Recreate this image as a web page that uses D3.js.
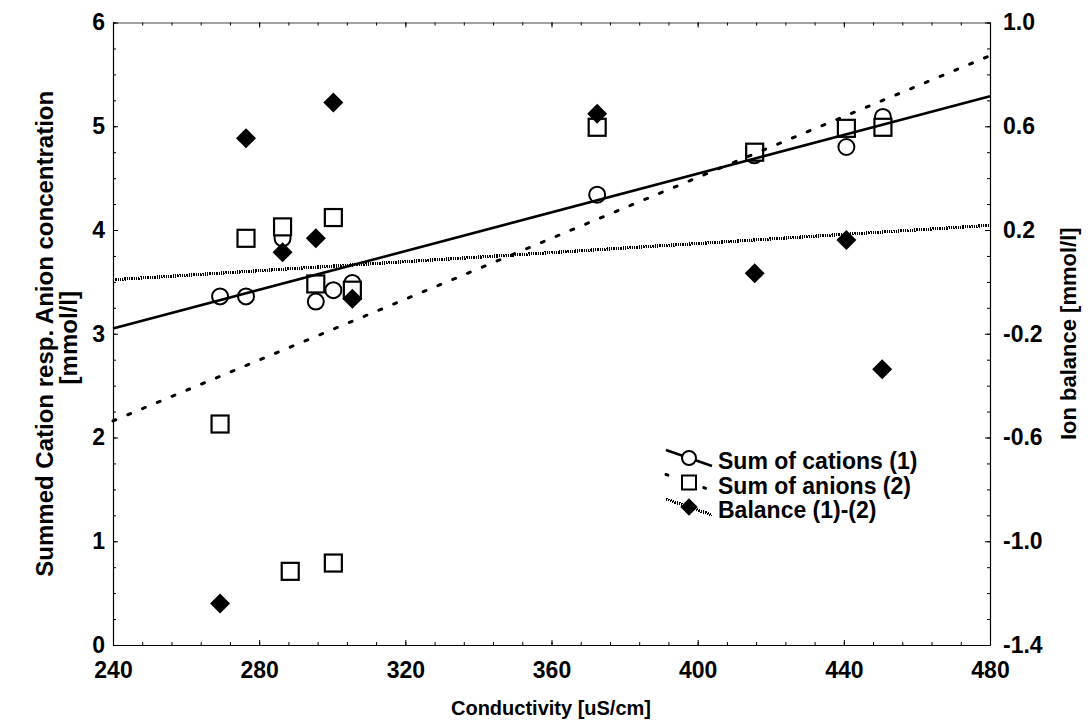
<!DOCTYPE html>
<html><head><meta charset="utf-8">
<script src="https://cdn.jsdelivr.net/npm/d3@7"></script>
<style>body{margin:0;background:#fff}svg{display:block}</style>
</head><body><svg id="c" width="1091" height="722"></svg>
<script>
// ---- data ----
const cationX = [269.3, 276.4, 286.4, 295.5, 300.3, 305.5, 372.5, 415.5, 440.7, 450.7];
const cationY = [3.36, 3.36, 3.92, 3.31, 3.42, 3.49, 4.34, 4.72, 4.80, 5.09];
const anionX = [269.3, 276.4, 286.4, 300.3, 295.5, 305.5, 288.5, 300.3, 372.5, 415.6, 440.7, 450.7];
const anionY = [2.13, 3.92, 4.03, 4.12, 3.48, 3.42, 0.71, 0.79, 4.99, 4.75, 4.98, 4.99];
const balanceX = [269.3, 276.4, 300.3, 286.4, 295.5, 305.5, 372.5, 415.6, 440.7, 450.5];
const balanceY = [-1.24, 0.554, 0.692, 0.114, 0.168, -0.065, 0.648, 0.033, 0.161, -0.337];
const fitX = [240, 480];
const cationFit = [3.05, 5.29];
const anionFit = [2.16, 5.68];
const balanceFit = [0.008, 0.218];
const xTicks = [240, 280, 320, 360, 400, 440, 480];
const yLeftTicks = [0, 1, 2, 3, 4, 5, 6];
const yRightTicks = [-1.4, -1.0, -0.6, -0.2, 0.2, 0.6, 1.0];
const legendLabels = ["Sum of cations (1)", "Sum of anions (2)", "Balance (1)-(2)"];
const xTitle = "Conductivity [uS/cm]";
const yLeftTitle = ["Summed Cation resp. Anion concentration", "[mmol/l]"];
const yRightTitle = "Ion balance [mmol/l]";

// ---- layout ----
const L = 113, R = 990, T = 22.5, B = 645;
const svg = d3.select("#c");
const FONT = "'Liberation Sans', Arial, sans-serif";
const x = d3.scaleLinear().domain([240, 480]).range([L, R]);
const yL = d3.scaleLinear().domain([0, 6]).range([B, T]);
const yR = d3.scaleLinear().domain([-1.4, 1.0]).range([B, T]);

const xMinor = d3.range(240, 480.01, 8);
const yLMinor = d3.range(0, 6.001, 0.25);
const yRMinor = d3.range(-1.4, 1.0001, 0.1);
const fmt1 = v => d3.format(".1f")(v).replace("\u2212", "-");

function styleAxis(g) {
  g.select(".domain").attr("stroke", "#000").attr("stroke-width", 1.2);
  g.selectAll(".tick line").attr("stroke", "#000").attr("stroke-width", 1);
  g.selectAll("text").attr("font-family", FONT).attr("font-weight", "bold")
    .attr("font-size", 23).attr("fill", "#000");
}

// minor ticks + axis lines
svg.append("g").attr("transform", `translate(0,${B})`)
  .call(d3.axisBottom(x).tickValues(xMinor).tickSize(-3).tickFormat("").tickSizeOuter(0)).call(styleAxis);
svg.append("g").attr("transform", `translate(0,${T})`)
  .call(d3.axisTop(x).tickValues(xMinor).tickSize(-3).tickFormat("").tickSizeOuter(0)).call(styleAxis)
  .select(".domain").attr("stroke", "#444").attr("stroke-width", 1);
svg.append("g").attr("transform", `translate(${L},0)`)
  .call(d3.axisLeft(yL).tickValues(yLMinor).tickSize(-3).tickFormat("").tickSizeOuter(0)).call(styleAxis);
svg.append("g").attr("transform", `translate(${R},0)`)
  .call(d3.axisRight(yR).tickValues(yRMinor).tickSize(-3).tickFormat("").tickSizeOuter(0)).call(styleAxis);

// major ticks + labels
const gx = svg.append("g").attr("transform", `translate(0,${B})`)
  .call(d3.axisBottom(x).tickValues(xTicks).tickSize(-5).tickPadding(13).tickSizeOuter(0).tickFormat(d3.format("d")))
  .call(styleAxis);
gx.select(".domain").remove();
gx.selectAll("text").attr("dy", null).attr("y", 33);

svg.append("g").attr("transform", `translate(0,${T})`)
  .call(d3.axisTop(x).tickValues(xTicks).tickSize(-5).tickFormat("").tickSizeOuter(0)).call(styleAxis)
  .select(".domain").remove();

const gyl = svg.append("g").attr("transform", `translate(${L},0)`)
  .call(d3.axisLeft(yL).tickValues(yLeftTicks).tickSize(-5).tickPadding(8).tickSizeOuter(0).tickFormat(d3.format("d")))
  .call(styleAxis);
gyl.select(".domain").remove();

const gyr = svg.append("g").attr("transform", `translate(${R},0)`)
  .call(d3.axisRight(yR).tickValues(yRightTicks).tickSize(-5).tickPadding(13).tickSizeOuter(0).tickFormat(fmt1))
  .call(styleAxis);
gyr.select(".domain").remove();

// titles
svg.append("text").attr("x", 551).attr("y", 715).attr("text-anchor", "middle")
  .attr("font-family", FONT).attr("font-weight", "bold").attr("font-size", 20).text(xTitle);
svg.append("text").attr("transform", `translate(53,${(T + B) / 2}) rotate(-90)`).attr("text-anchor", "middle")
  .attr("font-family", FONT).attr("font-weight", "bold").attr("font-size", 24).text(yLeftTitle[0]);
svg.append("text").attr("transform", `translate(77,${(T + B) / 2 + 4}) rotate(-90)`).attr("text-anchor", "middle")
  .attr("font-family", FONT).attr("font-weight", "bold").attr("font-size", 24).text(yLeftTitle[1]);
svg.append("text").attr("transform", `translate(1076,${(T + B) / 2}) rotate(-90)`).attr("text-anchor", "middle")
  .attr("font-family", FONT).attr("font-weight", "bold").attr("font-size", 22).text(yRightTitle);

// markers
const plot = svg.append("g");
const cations = cationX.map((v, i) => [v, cationY[i]]);
const anions = anionX.map((v, i) => [v, anionY[i]]);
const balances = balanceX.map((v, i) => [v, balanceY[i]]);

plot.selectAll("circle.cat").data(cations).join("circle").attr("class", "cat")
  .attr("cx", d => x(d[0])).attr("cy", d => yL(d[1])).attr("r", 8)
  .attr("fill", "#fff").attr("stroke", "#000").attr("stroke-width", 2);
plot.selectAll("rect.an").data(anions).join("rect").attr("class", "an")
  .attr("x", d => x(d[0]) - 8.5).attr("y", d => yL(d[1]) - 8.5).attr("width", 17).attr("height", 17)
  .attr("fill", "#fff").attr("stroke", "#000").attr("stroke-width", 2.2);
const diamond = d3.symbol().type(d3.symbolSquare).size(200);
plot.selectAll("path.bal").data(balances).join("path").attr("class", "bal")
  .attr("transform", d => `translate(${x(d[0])},${yR(d[1])}) rotate(45)`)
  .attr("d", diamond).attr("fill", "#000");

// fit lines
const lineL = d3.line().x(d => x(d[0])).y(d => yL(d[1]));
const lineR = d3.line().x(d => x(d[0])).y(d => yR(d[1]));
plot.append("path").datum(fitX.map((v, i) => [v, balanceFit[i]])).attr("d", lineR)
  .attr("fill", "none").attr("stroke", "#000").attr("stroke-width", 3.2).attr("stroke-dasharray", "1.3,1")
  .attr("shape-rendering", "crispEdges");
plot.append("path").datum(fitX.map((v, i) => [v, anionFit[i]])).attr("d", lineL)
  .attr("fill", "none").attr("stroke", "#000").attr("stroke-width", 3).attr("stroke-dasharray", "3,13")
  .attr("stroke-linecap", "round");
plot.append("path").datum(fitX.map((v, i) => [v, cationFit[i]])).attr("d", lineL)
  .attr("fill", "none").attr("stroke", "#000").attr("stroke-width", 2.6);

// legend
const lg = svg.append("g").attr("transform", "translate(666,450)");
const styles = [
  {dash: null, w: 2.6, cap: "butt"},
  {dash: "2,18", w: 3, cap: "round"},
  {dash: "1.3,1", w: 3, cap: "butt"}
];
legendLabels.forEach((lab, i) => {
  const g = lg.append("g").attr("transform", `translate(0,${i * 24.5})`);
  g.append("line").attr("x1", 0).attr("y1", 0).attr("x2", 46).attr("y2", 16)
    .attr("stroke", "#000").attr("stroke-width", styles[i].w)
    .attr("stroke-dasharray", styles[i].dash).attr("stroke-linecap", styles[i].cap)
    .attr("shape-rendering", i === 2 ? "crispEdges" : null);
  if (i === 0) g.append("circle").attr("cx", 23).attr("cy", 8).attr("r", 7)
    .attr("fill", "#fff").attr("stroke", "#000").attr("stroke-width", 2);
  if (i === 1) g.append("rect").attr("x", 16).attr("y", 1).attr("width", 14).attr("height", 14)
    .attr("fill", "#fff").attr("stroke", "#000").attr("stroke-width", 2);
  if (i === 2) g.append("path").attr("transform", "translate(23,8) rotate(45)")
    .attr("d", d3.symbol().type(d3.symbolSquare).size(150)).attr("fill", "#000");
  g.append("text").attr("x", 52).attr("y", 19).attr("font-family", FONT).attr("font-weight", "bold")
    .attr("font-size", 23).text(lab);
});
</script></body></html>
